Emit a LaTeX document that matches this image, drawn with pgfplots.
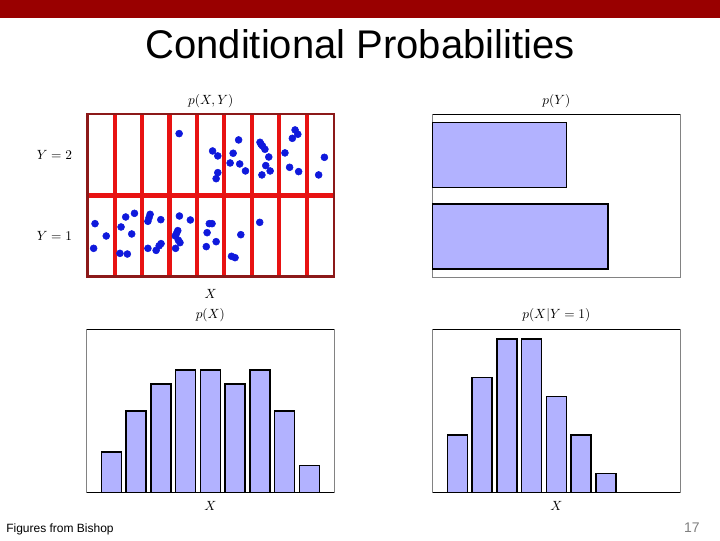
\documentclass[border=0pt]{standalone}
\usepackage{fontspec}
\setmainfont{Liberation Sans}
\usepackage{pgfplots}
\pgfplotsset{compat=1.18}

\definecolor{bandred}{RGB}{153,0,0}
\definecolor{gridred}{RGB}{232,18,18}
\definecolor{framered}{RGB}{140,25,25}
\definecolor{dotblue}{RGB}{15,25,220}
\definecolor{barfill}{RGB}{178,178,255}
\definecolor{framegray}{RGB}{130,130,130}

\pgfplotsset{
  panel/.style={
    anchor=south west, scale only axis,
    xtick=\empty, ytick=\empty,
    axis line style={draw=framegray, line width=0.75pt},
  },
  hist/.style={fill=barfill, draw=black, line width=1.1pt},
}
\newcommand{\lblfont}{\fontsize{10.3}{12}\selectfont}

\begin{document}
\begin{tikzpicture}
\path[use as bounding box, fill=white] (0,0) rectangle (540pt,405pt);
\fill[bandred] (0,391.3pt) rectangle (540pt,405pt);
\node[anchor=base, inner sep=0pt, font=\fontsize{30}{36}\selectfont] at (270pt,361pt) {Conditional Probabilities};
\node[anchor=base west, inner sep=0pt, font=\fontsize{9}{11}\selectfont] at (4.5pt,5.6pt) {Figures from Bishop};
\node[anchor=base east, inner sep=0pt, text=gray, font=\fontsize{10.5}{12}\selectfont] at (525pt,6pt) {17};

% joint distribution p(X,Y)
\begin{axis}[
    at={(65.5pt,197.5pt)}, anchor=south west, scale only axis,
    width=185pt, height=121.8pt,
    xmin=0, xmax=9, ymin=0, ymax=2,
    xtick={1,...,8}, ytick={1},
    xticklabels={}, yticklabels={},
    grid=major,
    major grid style={draw=gridred, line width=3.1pt},
    tick style={draw=none},
    extra y ticks={0.5,1.5},
    extra y tick labels={$Y=1$,$Y=2$},
    extra y tick style={grid=none},
    yticklabel style={font=\lblfont, xshift=-8pt},
    axis line style={draw=framered, line width=1.8pt},
    clip=false,
]
\addplot[only marks, mark=*, mark size=2.6pt, mark options={draw=dotblue, fill=dotblue}] coordinates {
  (3.35,1.762) (4.57,1.548) (4.76,1.487) (4.76,1.281) (4.70,1.207)
  (5.52,1.684) (5.32,1.520) (5.21,1.400) (5.56,1.388) (5.77,1.302)
  (6.30,1.655) (6.39,1.610) (6.48,1.569) (6.62,1.474) (6.51,1.368)
  (6.67,1.302) (6.37,1.253) (6.34,1.630)
  (7.58,1.807) (7.68,1.754) (7.48,1.704) (7.21,1.524) (7.38,1.347) (7.71,1.294)
  (8.65,1.470) (8.44,1.253)
};
\addplot[only marks, mark=*, mark size=2.6pt, mark options={draw=dotblue, fill=dotblue}] coordinates {
  (0.28,0.653) (0.69,0.501) (0.23,0.349)
  (1.40,0.735) (1.72,0.780) (1.23,0.612) (1.62,0.526) (1.19,0.287) (1.46,0.279)
  (2.29,0.768) (2.21,0.682) (2.68,0.702) (2.69,0.407) (2.21,0.349) (2.51,0.324)
  (2.25,0.725) (2.62,0.380)
  (3.36,0.747) (3.76,0.698) (3.30,0.567) (3.21,0.501) (3.38,0.419) (3.22,0.349)
  (3.25,0.530) (3.32,0.450)
  (4.45,0.653) (4.55,0.653) (4.37,0.542) (4.70,0.431) (4.34,0.370)
  (5.26,0.251) (5.39,0.234) (5.60,0.517)
  (6.29,0.669)
};
\node[anchor=base, font=\lblfont, yshift=7.4pt] at (rel axis cs:0.5,1) {$p(X,Y)$};
\node[anchor=base, font=\lblfont, yshift=-16.2pt] at (rel axis cs:0.5,0) {$X$};
\end{axis}

% marginal p(Y)
\begin{axis}[panel,
    at={(324.5pt,197pt)}, width=185.5pt, height=122.25pt,
    xmin=0, xmax=0.8, ymin=0.5, ymax=2.5,
    xbar, bar width=0.8, clip=false,
]
\addplot[hist] coordinates {(0.5667,1) (0.4333,2)};
\draw[black, line width=1.1pt] (rel axis cs:0,1) -- (rel axis cs:1,1);
\node[anchor=base, font=\lblfont, yshift=7.4pt] at (rel axis cs:0.5,1) {$p(Y)$};
\end{axis}

% marginal p(X)
\begin{axis}[panel,
    at={(65pt,35.5pt)}, width=185.5pt, height=122.5pt,
    xmin=0, xmax=10, ymin=0, ymax=0.2,
    ybar, bar width=0.81, clip=false,
]
\addplot[hist] coordinates {
  (1,0.0500) (2,0.1000) (3,0.1333) (4,0.1500) (5,0.1500)
  (6,0.1333) (7,0.1500) (8,0.1000) (9,0.0333)
};
\draw[black, line width=1.1pt] (rel axis cs:0,1) -- (rel axis cs:1,1);
\draw[black, line width=1.1pt] (rel axis cs:0,0) -- (rel axis cs:1,0);
\node[anchor=base, font=\lblfont, yshift=8.1pt] at (rel axis cs:0.5,1) {$p(X)$};
\node[anchor=base, font=\lblfont, yshift=-13pt] at (rel axis cs:0.5,0) {$X$};
\end{axis}

% conditional p(X|Y=1)
\begin{axis}[panel,
    at={(324.5pt,35.5pt)}, width=185.5pt, height=122.5pt,
    xmin=0, xmax=10, ymin=0, ymax=0.25,
    ybar, bar width=0.81, clip=false,
]
\addplot[hist] coordinates {
  (1,0.0882) (2,0.1765) (3,0.2353) (4,0.2353) (5,0.1471) (6,0.0882) (7,0.0294)
};
\draw[black, line width=1.1pt] (rel axis cs:0,1) -- (rel axis cs:1,1);
\draw[black, line width=1.1pt] (rel axis cs:0,0) -- (rel axis cs:1,0);
\node[anchor=base, font=\lblfont, yshift=8.1pt] at (rel axis cs:0.5,1) {$p(X|Y=1)$};
\node[anchor=base, font=\lblfont, yshift=-13pt] at (rel axis cs:0.5,0) {$X$};
\end{axis}
\end{tikzpicture}
\end{document}
